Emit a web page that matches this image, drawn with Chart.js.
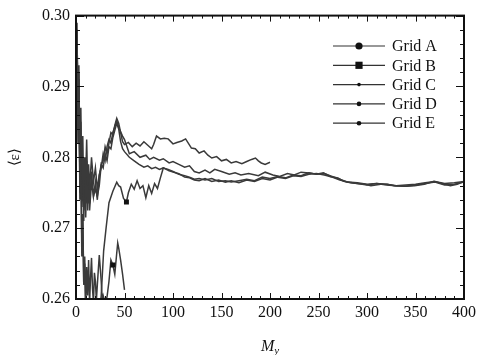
<!DOCTYPE html>
<html><head><meta charset="utf-8">
<script src="https://cdn.jsdelivr.net/npm/chart.js@4"></script>
<style>html,body{margin:0;padding:0;background:#fff}#wrap{width:480px;height:355px}</style>
</head><body><div id="wrap"><canvas id="c" width="480" height="355"></canvas></div>
<script>
const seriesLabels = ['Grid A','Grid B','Grid C','Grid D','Grid E'];
const xTickLabels = ['0','50','100','150','200','250','300','350','400'];
const yTickLabels = ['0.26','0.27','0.28','0.29','0.30'];

const gridAX = [1,2,3,4,5,6,7,8,9,10,11,12,13,14,15,16,17,18,19,20,21,22,24,26,27,28,30,32,34,36,38,40,42,43,44,46,48,50];
const gridAY = [0.299,0.285,0.293,0.275,0.281,0.268,0.272,0.262,0.266,0.259,0.2645,0.2605,0.2655,0.2595,0.263,0.2658,0.2615,0.2595,0.2637,0.2625,0.2598,0.262,0.2662,0.2625,0.2598,0.2605,0.2595,0.2603,0.2625,0.2655,0.2648,0.2635,0.2665,0.2679,0.2672,0.2655,0.2635,0.2613];

const gridBX = [1,2,3,4,5,6,7,8,9,10,12,14,16,18,20,22,24,26,28.5,31,34,38,42,44,46,49,52,54,57,60,63,66,69,72,75,78,81,84,87,90,95,100,106,112,117,122,127,133,140,147,154,160,168,176,184,192,200,208,216,224,232,240,248,256,264,272,280,290,300,310,320,330,340,350,360,370,380,390,400];
const gridBY = [0.298,0.282,0.291,0.274,0.279,0.266,0.271,0.262,0.265,0.2585,0.2575,0.2560,0.2565,0.2555,0.2560,0.2555,0.2575,0.2605,0.2668,0.2700,0.2736,0.2752,0.2765,0.2760,0.2758,0.2742,0.2737,0.2750,0.2762,0.2755,0.2767,0.2756,0.2760,0.2743,0.2760,0.2749,0.2763,0.2756,0.2771,0.2785,0.2783,0.2780,0.2776,0.2774,0.2772,0.2769,0.2770,0.2768,0.2770,0.2766,0.2767,0.2765,0.2767,0.2769,0.2767,0.2772,0.2770,0.2773,0.2771,0.2775,0.2774,0.2778,0.2776,0.2777,0.2773,0.2769,0.2765,0.2763,0.2761,0.2763,0.2762,0.2760,0.2759,0.2761,0.2763,0.2765,0.2761,0.2762,0.2765];

const gridCX = [1,2,3,4,5,6,7,8,9,10,11,12,13,14,16,18,20,22,24,26,28,30,32,34,36,38,40,42,44,46,48,50,54,58,62,66,70,74,78,80,83,87,91,95,100,104,109,113,119,123,127,132,136,140,145,150,155,160,165,171,176,181,185,188,191,195,200];
const gridCY = [0.298,0.284,0.292,0.280,0.287,0.276,0.283,0.274,0.280,0.277,0.2825,0.276,0.279,0.2755,0.280,0.2765,0.2785,0.2755,0.2775,0.279,0.2795,0.2815,0.2805,0.282,0.2835,0.2832,0.2845,0.2855,0.2848,0.2835,0.2822,0.2818,0.2821,0.2815,0.2820,0.2816,0.2822,0.2817,0.2812,0.2818,0.2830,0.2826,0.2827,0.2826,0.2819,0.2821,0.2823,0.2826,0.2813,0.2812,0.2806,0.2809,0.2803,0.2799,0.2801,0.2795,0.2797,0.2792,0.2794,0.2791,0.2794,0.2797,0.2799,0.2795,0.2792,0.2790,0.2793];

const gridDX = [1,2,3,4,5,6,7,8,9,10,11,12,13,14,16,18,20,22,24,26,28,30,32,34,36,38,40,42,44,46,48,50,55,60,66,72,76,80,86,90,96,100,106,112,117,122,127,133,138,143,150,158,164,170,178,188,195,203,210,218,225,232,240,248,255,262,270,276,283,290,298,304,314,321,328,339,349,359,369,380,386,393,400];
const gridDY = [0.297,0.289,0.291,0.277,0.285,0.273,0.280,0.271,0.278,0.2735,0.2795,0.2725,0.277,0.2735,0.278,0.2745,0.2765,0.274,0.2775,0.2785,0.2805,0.2795,0.2815,0.2825,0.282,0.2835,0.2843,0.2852,0.2842,0.2836,0.283,0.2825,0.2805,0.2808,0.2800,0.2803,0.2797,0.2800,0.2796,0.2798,0.2792,0.2794,0.2790,0.2786,0.2788,0.2780,0.2778,0.2782,0.2778,0.2783,0.2780,0.2776,0.2778,0.2775,0.2777,0.2774,0.2779,0.2775,0.2773,0.2777,0.2775,0.2779,0.2778,0.2776,0.2778,0.2773,0.2771,0.2766,0.2764,0.2763,0.2762,0.2760,0.2762,0.2762,0.2760,0.2759,0.2760,0.2762,0.2766,0.2762,0.2760,0.2762,0.2766];

const gridEX = [1,2,3,4,5,6,7,8,9,10,11,12,13,14,16,18,20,22,24,26,28,30,32,34,36,38,40,42,44,46,48,50,55,60,65,70,74,78,82,86,90,96,101,106,112,117,122,127,133,140,147,154,160,168,176,184,192,200,208,216,224,232,240,248,256,264,272,280,290,300,310,320,330,340,350,360,370,380,390,400];
const gridEY = [0.296,0.287,0.290,0.279,0.283,0.275,0.279,0.2725,0.2765,0.2715,0.2775,0.2735,0.2760,0.2725,0.2765,0.2745,0.2755,0.2745,0.276,0.279,0.2785,0.2805,0.2795,0.2815,0.2812,0.2828,0.2838,0.2848,0.2840,0.2822,0.2812,0.2808,0.2800,0.2795,0.2790,0.2786,0.2788,0.2784,0.2786,0.2783,0.2785,0.2781,0.2779,0.2777,0.2772,0.2771,0.2768,0.2767,0.2770,0.2766,0.2768,0.2765,0.2767,0.2764,0.2768,0.2766,0.2770,0.2768,0.2772,0.2770,0.2774,0.2773,0.2776,0.2777,0.2775,0.2772,0.2768,0.2765,0.2764,0.2762,0.2763,0.2761,0.2760,0.2761,0.2762,0.2764,0.2766,0.2763,0.2764,0.2766];

// x positions where a series shows its marker on the curve
const markerXs = [[38], [52], [], [], []];

const xsAll = [gridAX, gridBX, gridCX, gridDX, gridEX];
const ysAll = [gridAY, gridBY, gridCY, gridDY, gridEY];
const legendMarkers = [['circle',3.6],['rect',3.6],['circle',1.8],['circle',2.3],['circle',2.3]];

const SERIF = '"Liberation Serif", "Times New Roman", serif';
const INK = '#111';

const datasets = seriesLabels.map((lab, i) => ({
  label: lab,
  data: xsAll[i].map((x, j) => ({x: x, y: ysAll[i][j]})),
  borderColor: '#3a3a3a',
  borderWidth: 1.5,
  pointStyle: 'rect',
  pointBackgroundColor: '#111',
  pointBorderColor: '#111',
  pointBorderWidth: 0,
  pointRadius: (ctx) => (ctx.raw && markerXs[i].includes(ctx.raw.x)) ? 3.5 : 0,
  tension: 0,
  fill: false
}));

const frameTicks = {
  id: 'frameTicks',
  afterDatasetsDraw(chart) {
    const {ctx, chartArea: a, scales} = chart;
    const x = scales.x, y = scales.y;
    ctx.save();
    ctx.strokeStyle = INK;
    ctx.lineWidth = 1;
    const seg = (x1, y1, x2, y2) => { ctx.beginPath(); ctx.moveTo(x1, y1); ctx.lineTo(x2, y2); ctx.stroke(); };
    for (let k = 0; k <= 40; k++) {
      const px = Math.round(x.getPixelForValue(k * 10)) + 0.5;
      const len = k % 5 === 0 ? 6 : 3;
      seg(px, a.bottom, px, a.bottom - len);
      seg(px, a.top, px, a.top + len);
    }
    for (let k = 0; k <= 20; k++) {
      const py = Math.round(y.getPixelForValue(0.26 + k * 0.002)) + 0.5;
      const len = k % 5 === 0 ? 8 : 4;
      seg(a.left, py, a.left + len, py);
      seg(a.right, py, a.right - len, py);
    }
    ctx.lineWidth = 2;
    ctx.strokeRect(a.left, a.top, a.right - a.left, a.bottom - a.top);
    ctx.restore();
  },
  afterDraw(chart) {
    const {ctx, chartArea: a} = chart;
    ctx.save();
    const x0 = 333, x1 = 385, tx = 392;
    chart.data.datasets.forEach((ds, i) => {
      const yy = 46 + i * 19.3;
      ctx.strokeStyle = '#333';
      ctx.lineWidth = 1.2;
      ctx.beginPath(); ctx.moveTo(x0, yy); ctx.lineTo(x1, yy); ctx.stroke();
      const [shape, r] = legendMarkers[i];
      const cx = (x0 + x1) / 2;
      ctx.fillStyle = '#111';
      if (shape === 'rect') { ctx.fillRect(cx - r, yy - r, 2 * r, 2 * r); }
      else { ctx.beginPath(); ctx.arc(cx, yy, r, 0, Math.PI * 2); ctx.fill(); }
      ctx.fillStyle = INK;
      ctx.font = '16px ' + SERIF;
      ctx.textBaseline = 'middle';
      ctx.textAlign = 'left';
      ctx.fillText(ds.label, tx, yy + 1);
    });
    const cxT = (a.left + a.right) / 2;
    ctx.fillStyle = INK;
    ctx.textBaseline = 'alphabetic';
    ctx.font = 'italic 16px ' + SERIF;
    const wM = ctx.measureText('M').width;
    ctx.font = 'italic 11px ' + SERIF;
    const wy = ctx.measureText('y').width;
    const start = cxT - (wM + wy) / 2;
    ctx.font = 'italic 16px ' + SERIF;
    ctx.textAlign = 'left';
    ctx.fillText('M', start, 351);
    ctx.font = 'italic 11px ' + SERIF;
    ctx.fillText('y', start + wM, 354);
    ctx.restore();
  }
};

new Chart(document.getElementById('c'), {
  type: 'line',
  data: { datasets: datasets },
  options: {
    responsive: false,
    animation: false,
    layout: { padding: { left: 0, right: 13, top: 14, bottom: 0 } },
    plugins: { legend: { display: false }, tooltip: { enabled: false } },
    scales: {
      x: {
        type: 'linear', min: 0, max: 400,
        grid: { display: false, drawTicks: false },
        border: { display: false },
        ticks: {
          stepSize: 50, padding: 4, color: INK, maxRotation: 0,
          font: { family: SERIF, size: 16 },
          callback: (v) => { const i = xTickLabels.indexOf(String(v)); return i >= 0 ? xTickLabels[i] : ''; }
        },
        afterFit: (s) => { s.height = 56; }
      },
      y: {
        type: 'linear', min: 0.26, max: 0.30,
        grid: { display: false, drawTicks: false },
        border: { display: false },
        ticks: {
          stepSize: 0.01, padding: 6, color: INK,
          font: { family: SERIF, size: 16 },
          callback: (v) => { const s = Number(v).toFixed(2); return yTickLabels.includes(s) ? s : ''; }
        },
        title: { display: true, text: '⟨ε⟩', color: INK, font: { family: SERIF, size: 15 }, padding: { top: 6, bottom: 0 } },
        afterFit: (s) => { s.width = 76; }
      }
    }
  },
  plugins: [frameTicks]
});
</script>
</body></html>
